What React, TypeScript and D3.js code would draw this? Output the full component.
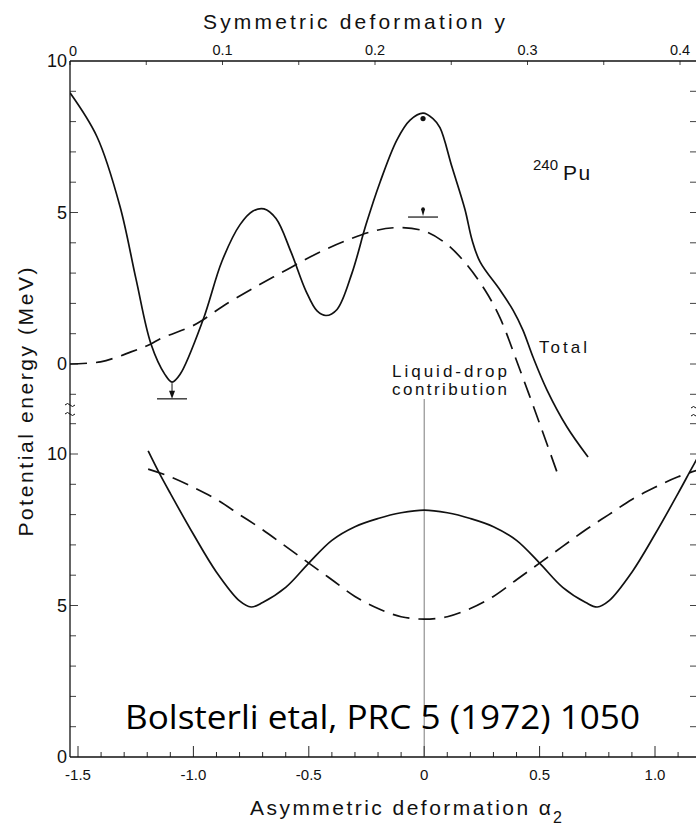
import React from "react";
import * as d3 from "d3";

const W = 696;
const H = 826;

// Upper panel: total potential energy vs symmetric deformation y (240Pu)
const symDef = [0, 0.0177, 0.0328, 0.0433, 0.0531, 0.0623, 0.0669, 0.0721, 0.0872, 0.0997, 0.1115, 0.12, 0.1272, 0.1351, 0.1449, 0.1548, 0.162, 0.1679, 0.1751, 0.1849, 0.1941, 0.2033, 0.2144, 0.223, 0.2315, 0.238, 0.2426, 0.2505, 0.259, 0.2636, 0.2689, 0.282, 0.2905, 0.297, 0.3036, 0.3128, 0.3259, 0.3397];
const symTotal = [8.95, 7.5, 5.2, 2.8, 0.66, -0.35, -0.6, -0.35, 1.45, 3.4, 4.6, 5.05, 5.12, 4.8, 3.7, 2.4, 1.75, 1.6, 1.8, 3.0, 4.6, 6.0, 7.4, 8.05, 8.28, 8.1, 7.8, 6.5, 5.1, 4.1, 3.37, 2.44, 1.78, 1.12, 0.23, -0.86, -2.08, -3.07];

// Upper panel: liquid-drop contribution
const symDefLD = [0, 0.02, 0.031, 0.04, 0.047, 0.053, 0.06, 0.08, 0.087, 0.1, 0.12, 0.14, 0.16, 0.18, 0.2, 0.2144, 0.2315, 0.2459, 0.259, 0.2721, 0.282, 0.2951, 0.3082, 0.32];
const symLD = [0, 0.07, 0.23, 0.4, 0.53, 0.66, 0.85, 1.25, 1.45, 1.9, 2.5, 3.05, 3.6, 4.05, 4.4, 4.5, 4.4, 4.0, 3.35, 2.44, 1.52, -0.2, -2.0, -3.66];

// Lower panel: total energy vs asymmetric deformation alpha2
const asymDef = [-1.196, -1.15, -1.1, -1.0, -0.9, -0.8, -0.75, -0.7, -0.6, -0.5, -0.4, -0.3, -0.2, -0.1, 0, 0.1, 0.2, 0.3, 0.4, 0.5, 0.6, 0.7, 0.75, 0.8, 0.9, 1.0, 1.1, 1.15, 1.2];
const asymTotal = [10.1, 9.4, 8.7, 7.35, 6.1, 5.15, 4.95, 5.1, 5.6, 6.4, 7.15, 7.6, 7.87, 8.06, 8.15, 8.06, 7.87, 7.6, 7.15, 6.4, 5.6, 5.1, 4.95, 5.15, 6.1, 7.35, 8.7, 9.4, 10.1];

// Lower panel: liquid-drop contribution
const asymDefLD = [-1.196, -1.1, -1.0, -0.9, -0.8, -0.7, -0.6, -0.5, -0.4, -0.3, -0.2, -0.1, 0, 0.1, 0.2, 0.3, 0.4, 0.5, 0.6, 0.7, 0.8, 0.9, 1.0, 1.1, 1.2];
const asymLD = [9.5, 9.25, 8.9, 8.5, 8.0, 7.5, 6.95, 6.4, 5.85, 5.3, 4.9, 4.63, 4.55, 4.63, 4.9, 5.3, 5.85, 6.4, 6.95, 7.5, 8.0, 8.5, 8.9, 9.25, 9.5];

// Experimental markers on the upper curve
const markerSym = [0.0669, 0.2315];
const markerLevel = [-1.15, 4.85];
const groundMinE = -0.6;
const barrierDotE = 8.1;

// Tick labels
const topTicks = [0, 0.1, 0.2, 0.3, 0.4];
const topTickText = ["0", "0.1", "0.2", "0.3", "0.4"];
const bottomTicks = [-1.5, -1.0, -0.5, 0, 0.5, 1.0];
const bottomTickText = ["-1.5", "-1.0", "-0.5", "0", "0.5", "1.0"];
const energyTicks = [0, 5, 10];

const FONT = "'Liberation Sans', Arial, sans-serif";
const INK = "#111";

type Pt = [number, number];

export default function App() {
  const left = 70;
  const right = 696;
  const top = 61;
  const bottom = 757;

  const xSym = d3.scaleLinear().domain([0, 0.4]).range([70, 680]);
  const xAlpha = d3.scaleLinear().domain([-1.5, 1.0]).range([78, 655]);
  const yUp = d3.scaleLinear().domain([0, 10]).range([364, 61]);
  const yLo = d3.scaleLinear().domain([0, 10]).range([757, 454]);

  const upperLine = d3
    .line<Pt>()
    .x((d) => xSym(d[0]))
    .y((d) => yUp(d[1]))
    .curve(d3.curveCatmullRom.alpha(0.5));
  const lowerLine = d3
    .line<Pt>()
    .x((d) => xAlpha(d[0]))
    .y((d) => yLo(d[1]))
    .curve(d3.curveCatmullRom.alpha(0.5));

  const totalUpPath = upperLine(symDef.map((s, i) => [s, symTotal[i]] as Pt)) ?? "";
  const ldUpPath = upperLine(symDefLD.map((s, i) => [s, symLD[i]] as Pt)) ?? "";
  const totalLoPath = lowerLine(asymDef.map((a, i) => [a, asymTotal[i]] as Pt)) ?? "";
  const ldLoPath = lowerLine(asymDefLD.map((a, i) => [a, asymLD[i]] as Pt)) ?? "";

  const bottomMinor = d3.range(-15, 12).map((k) => k / 10);
  const topMinor = d3.range(0, 9).map((k) => k * 0.05);
  const upEnergyTicks = d3.range(-1, 10);
  const loEnergyTicks = d3.range(1, 12);

  // experimental markers
  const gx = xSym(markerSym[0]);
  const gLineY = yUp(markerLevel[0]);
  const gCurveY = yUp(groundMinE);
  const bx = xSym(markerSym[1]);
  const bLineY = yUp(markerLevel[1]);

  return (
    <svg
      width={W}
      height={H}
      viewBox={`0 0 ${W} ${H}`}
      style={{ position: "absolute", left: 0, top: 0, background: "#fff" }}
    >
      <defs>
        <clipPath id="plotArea">
          <rect x={left} y={top} width={right - left} height={bottom - top} />
        </clipPath>
      </defs>
      <rect x={0} y={0} width={W} height={H} fill="#fff" />

      {/* frame */}
      <g stroke={INK} strokeWidth={1.3} fill="none">
        <line x1={left} y1={top} x2={left} y2={bottom} />
        <line x1={left} y1={top} x2={right} y2={top} />
        <line x1={left} y1={bottom} x2={right} y2={bottom} />
      </g>

      {/* top axis: symmetric deformation */}
      <g stroke={INK} strokeWidth={0.8}>
        {topMinor.map((v) => (
          <line key={`tt${v}`} x1={xSym(v)} x2={xSym(v)} y1={top} y2={top + 4} />
        ))}
      </g>
      <g fontFamily={FONT} fontSize={14.5} fill={INK} textAnchor="middle">
        {topTicks.map((v, i) => (
          <text key={`tl${v}`} x={xSym(v) + (i === 0 ? 3 : 0)} y={i === 0 ? 56 : 55}>
            {topTickText[i]}
          </text>
        ))}
      </g>
      <text x={203} y={29} fontFamily={FONT} fontSize={21} fill={INK} textLength={302} lengthAdjust="spacing">
        Symmetric deformation y
      </text>

      {/* bottom axis: asymmetric deformation */}
      <g stroke={INK} strokeWidth={0.9}>
        {bottomMinor.map((v) => {
          const major = Math.abs(Math.round(v * 10) % 5) === 0;
          return (
            <line key={`bt${v}`} x1={xAlpha(v)} x2={xAlpha(v)} y1={bottom} y2={bottom - (major ? 11 : 5)} />
          );
        })}
      </g>
      <g fontFamily={FONT} fontSize={15} fill={INK} textAnchor="middle">
        {bottomTicks.map((v, i) => (
          <text key={`bl${v}`} x={xAlpha(v)} y={780}>
            {bottomTickText[i]}
          </text>
        ))}
      </g>
      <text x={250} y={815} fontFamily={FONT} fontSize={21} fill={INK} textLength={301} lengthAdjust="spacing">
        Asymmetric deformation α
      </text>
      <text x={553} y={823} fontFamily={FONT} fontSize={16} fill={INK}>
        2
      </text>

      {/* energy ticks, left and right */}
      <g stroke={INK} strokeWidth={0.8}>
        {upEnergyTicks.map((v) => (
          <line key={`lu${v}`} x1={left} x2={left + (v % 5 === 0 ? 8 : 6)} y1={yUp(v)} y2={yUp(v)} />
        ))}
        {loEnergyTicks.map((v) => (
          <line key={`ll${v}`} x1={left} x2={left + (v % 5 === 0 ? 8 : 6)} y1={yLo(v)} y2={yLo(v)} />
        ))}
        {upEnergyTicks.map((v) => (
          <line key={`ru${v}`} x1={right} x2={right - 6} y1={yUp(v)} y2={yUp(v)} />
        ))}
        {loEnergyTicks.map((v) => (
          <line key={`rl${v}`} x1={right} x2={right - 6} y1={yLo(v)} y2={yLo(v)} />
        ))}
      </g>
      {/* axis break marks */}
      <g stroke={INK} strokeWidth={1} fill="none">
        <path d={`M${left - 5},${405} q2.5,-3 5,0 t5,0`} />
        <path d={`M${left - 5},${414} q2.5,-3 5,0 t5,0`} />
        <path d={`M${right - 5},${408} q2.5,-3 5,0 t5,0`} />
        <path d={`M${right - 5},${416} q2.5,-3 5,0 t5,0`} />
      </g>
      <g fontFamily={FONT} fontSize={18} fill={INK} textAnchor="end">
        {energyTicks.map((v) => (
          <text key={`eu${v}`} x={left - 3} y={yUp(v) + 6}>
            {v}
          </text>
        ))}
        {energyTicks.map((v) => (
          <text key={`el${v}`} x={left - 3} y={yLo(v) + 6}>
            {v}
          </text>
        ))}
      </g>
      <text
        transform="translate(33,402) rotate(-90)"
        textAnchor="middle"
        fontFamily={FONT}
        fontSize={21}
        fill={INK}
        textLength={269}
        lengthAdjust="spacing"
      >
        Potential energy (MeV)
      </text>

      {/* alpha2 = 0 reference line */}
      <line x1={xAlpha(0)} x2={xAlpha(0)} y1={399} y2={bottom} stroke="#444" strokeWidth={0.7} />

      {/* curves */}
      <g clipPath="url(#plotArea)" fill="none" stroke={INK}>
        <path d={totalUpPath} strokeWidth={1.7} />
        <path d={ldUpPath} strokeWidth={1.7} strokeDasharray="17,9" />
        <path d={totalLoPath} strokeWidth={1.7} />
        <path d={ldLoPath} strokeWidth={1.7} strokeDasharray="17,9" />
      </g>

      {/* experimental ground-state marker */}
      <g stroke={INK} fill={INK}>
        <line x1={gx - 15} x2={gx + 15} y1={gLineY} y2={gLineY} strokeWidth={1.2} />
        <line x1={gx} x2={gx} y1={gCurveY + 1} y2={gLineY - 6} strokeWidth={1} />
        <path d={`M${gx - 3},${gLineY - 8} L${gx + 3},${gLineY - 8} L${gx},${gLineY} Z`} stroke="none" />
      </g>
      {/* experimental second-barrier marker */}
      <g stroke={INK} fill={INK}>
        <circle cx={bx} cy={yUp(barrierDotE)} r={2.6} stroke="none" />
        <line x1={bx - 15} x2={bx + 15} y1={bLineY} y2={bLineY} strokeWidth={1.2} />
        <circle cx={bx} cy={bLineY - 8} r={1.8} stroke="none" />
        <path d={`M${bx - 2},${bLineY - 8} L${bx + 2},${bLineY - 8} L${bx},${bLineY - 1} Z`} stroke="none" />
      </g>

      {/* labels */}
      <g fontFamily={FONT} fill={INK}>
        <text x={533} y={170} fontSize={15}>240</text>
        <text x={563} y={180} fontSize={21} letterSpacing={1.5}>Pu</text>
        <text x={539} y={353} fontSize={17} textLength={48} lengthAdjust="spacing">Total</text>
        <text x={392} y={377} fontSize={17} textLength={115} lengthAdjust="spacing">Liquid-drop</text>
        <text x={392} y={395} fontSize={17} textLength={115} lengthAdjust="spacing">contribution</text>
      </g>

      <text
        x={125}
        y={729}
        fontFamily="'Open Sans', 'Liberation Sans', sans-serif"
        fontSize={33}
        fill="#000"
        textLength={515}
        lengthAdjust="spacingAndGlyphs"
      >
        Bolsterli etal, PRC 5 (1972) 1050
      </text>
    </svg>
  );
}
